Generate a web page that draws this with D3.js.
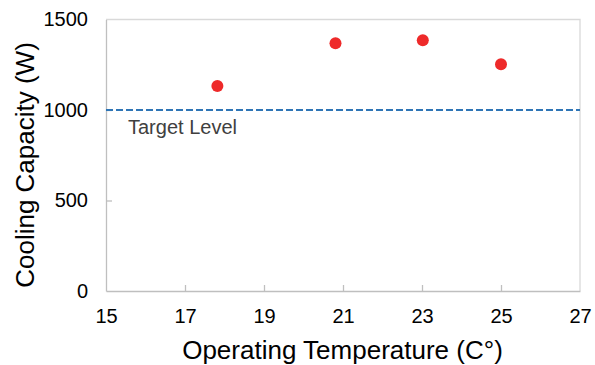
<!DOCTYPE html>
<html><head><meta charset="utf-8">
<script src="https://cdn.jsdelivr.net/npm/d3@7"></script>
<style>body{margin:0;background:#fff}svg{display:block}text{font-family:"Liberation Sans",Arial,sans-serif}</style>
</head><body>
<svg id="c" width="595" height="365"></svg>
<script>
const temps = [17.82, 20.81, 23.02, 25.0];
const capacity = [1133, 1369, 1385, 1253];
const xTicks = [15, 17, 19, 21, 23, 25, 27];
const yTicks = [0, 500, 1000, 1500];
const targetLevel = 1000;
const targetLabel = "Target Level";
const xTitle = "Operating Temperature (C°)";
const yTitle = "Cooling Capacity (W)";

const svg = d3.select("#c");
const m = {l:106, r:580, t:19.5, b:291};
const x = d3.scaleLinear().domain([15,27]).range([m.l, m.r]);
const y = d3.scaleLinear().domain([0,1500]).range([m.b, m.t]);

// frame top/right
svg.append("path").attr("d",`M${m.l},${m.t}H${m.r}V${m.b}`).attr("fill","none").attr("stroke","#d9d9d9").attr("stroke-width",1.3);

const xa = svg.append("g").attr("transform",`translate(0,${m.b})`)
  .call(d3.axisBottom(x).tickValues(xTicks).tickFormat(d3.format("d")).tickSizeInner(-6).tickSizeOuter(0).tickPadding(18));
const ya = svg.append("g").attr("transform",`translate(${m.l},0)`)
  .call(d3.axisLeft(y).tickValues(yTicks).tickFormat(d3.format("d")).tickSizeInner(-6).tickSizeOuter(0).tickPadding(18));
[xa,ya].forEach(a=>{
  a.select(".domain").attr("stroke","#bfbfbf").attr("stroke-width",1.3);
  a.selectAll(".tick line").attr("stroke","#bfbfbf").attr("stroke-width",1.3);
  a.selectAll(".tick text").attr("font-size",20).attr("fill","#000").style("font-family","Liberation Sans, Arial, sans-serif");
});
xa.selectAll(".tick line").filter(d=>d===15||d===27).remove();
ya.selectAll(".tick line").filter(d=>d===0||d===1500).remove();

svg.append("line").attr("x1",m.l).attr("x2",m.r).attr("y1",y(targetLevel)).attr("y2",y(targetLevel))
  .attr("stroke","#2e75b6").attr("stroke-width",2.2).attr("stroke-dasharray","7,3");
svg.append("text").attr("x",128).attr("y",133.5).attr("font-size",20).attr("fill","#404040").text(targetLabel);

svg.selectAll("circle.pt").data(temps).join("circle").attr("class","pt")
  .attr("cx",d=>x(d)).attr("cy",(d,i)=>y(capacity[i])).attr("r",6).attr("fill","#ee2a2a");

svg.append("text").attr("x",342.5).attr("y",359).attr("text-anchor","middle").attr("font-size",26).attr("fill","#000").text(xTitle);
svg.append("text").attr("transform",`translate(34,165) rotate(-90)`).attr("text-anchor","middle").attr("font-size",26).attr("fill","#000").text(yTitle);
</script>
</body></html>
